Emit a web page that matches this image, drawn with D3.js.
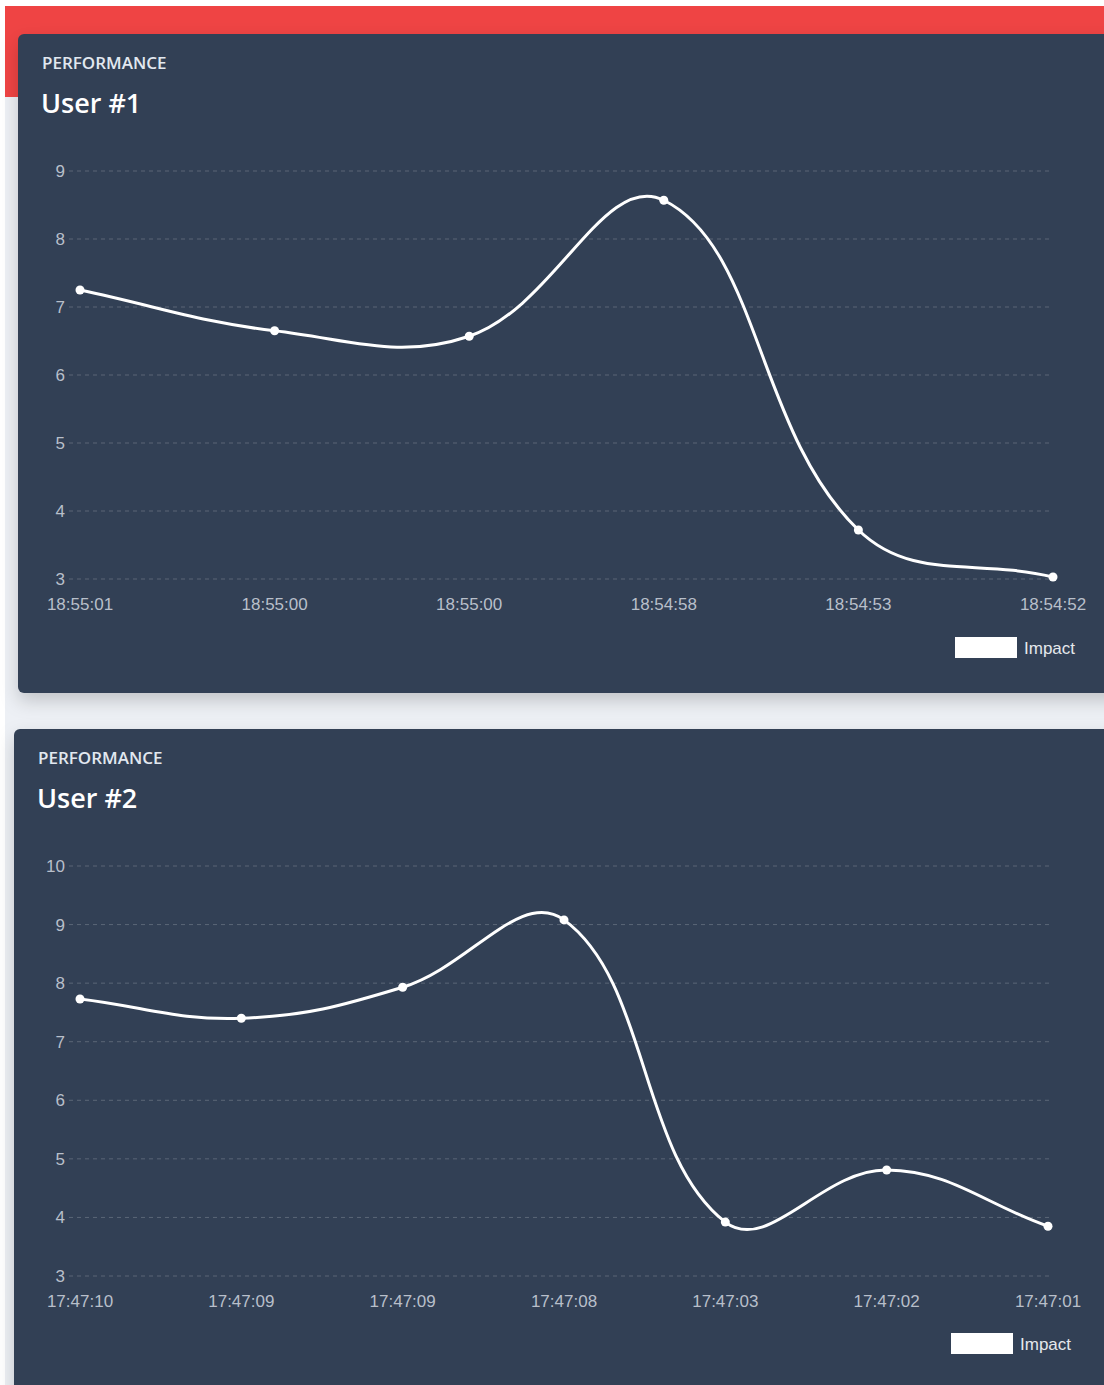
<!DOCTYPE html>
<html>
<head>
<meta charset="utf-8">
<script src="https://cdn.jsdelivr.net/npm/d3@7"></script>
<style>
  html, body { margin: 0; padding: 0; background: #ffffff; }
  svg { display: block; }
</style>
</head>
<body>
<svg id="page" width="1104" height="1385"></svg>
<script>
// ===============================
// DATA
// ===============================
const user1Labels = ["18:55:01", "18:55:00", "18:55:00", "18:54:58", "18:54:53", "18:54:52"];
const user1Impact = [7.25, 6.65, 6.57, 8.57, 3.72, 3.03];
const user1Ticks = [3, 4, 5, 6, 7, 8, 9];

const user2Labels = ["17:47:10", "17:47:09", "17:47:09", "17:47:08", "17:47:03", "17:47:02", "17:47:01"];
const user2Impact = [7.73, 7.40, 7.93, 9.08, 3.92, 4.81, 3.85];
const user2Ticks = [3, 4, 5, 6, 7, 8, 9, 10];

const svg = d3.select("#page");

// page background
svg.append("rect").attr("x", 5).attr("y", 6).attr("width", 1099).attr("height", 1379).attr("fill", "#edf0f5");
svg.append("rect").attr("x", 5).attr("y", 6).attr("width", 1099).attr("height", 91).attr("fill", "#ef4444");

const defs = svg.append("defs");
defs.append("filter").attr("id", "shadow")
    .attr("x", "-5%").attr("y", "-5%").attr("width", "110%").attr("height", "115%")
    .append("feDropShadow")
    .attr("dx", 0).attr("dy", 8).attr("stdDeviation", 9)
    .attr("flood-color", "#000").attr("flood-opacity", 0.18);

// spline like chart.js (tension 0.4, distance weighted)
function splinePath(pts, t) {
    const p = d3.path();
    const ctrl = pts.map((cur, i) => {
        const prev = pts[i - 1] || cur;
        const next = pts[i + 1] || cur;
        const d01 = Math.hypot(cur[0] - prev[0], cur[1] - prev[1]);
        const d12 = Math.hypot(next[0] - cur[0], next[1] - cur[1]);
        let s01 = d01 / (d01 + d12);
        let s12 = d12 / (d01 + d12);
        if (isNaN(s01)) s01 = 0;
        if (isNaN(s12)) s12 = 0;
        const fa = t * s01, fb = t * s12;
        return {
            before: [cur[0] - fa * (next[0] - prev[0]), cur[1] - fa * (next[1] - prev[1])],
            after: [cur[0] + fb * (next[0] - prev[0]), cur[1] + fb * (next[1] - prev[1])]
        };
    });
    p.moveTo(pts[0][0], pts[0][1]);
    for (let i = 1; i < pts.length; i++) {
        const a = ctrl[i - 1].after, b = ctrl[i].before;
        p.bezierCurveTo(a[0], a[1], b[0], b[1], pts[i][0], pts[i][1]);
    }
    return p.toString();
}

function drawCard(opt) {
    const g = svg.append("g");

    g.append("rect")
        .attr("x", opt.left).attr("y", opt.top)
        .attr("width", 1200).attr("height", opt.height)
        .attr("rx", 6)
        .attr("fill", "#334155")
        .attr("filter", "url(#shadow)");

    g.append("text")
        .attr("x", opt.left + 24).attr("y", opt.top + 35)
        .attr("fill", "#e2e8f0")
        .style("font-family", "'Open Sans', sans-serif")
        .style("font-weight", 600)
        .style("font-size", "17px")
        .text("PERFORMANCE");

    g.append("text")
        .attr("x", opt.left + 23).attr("y", opt.top + 79)
        .attr("fill", "#ffffff")
        .style("font-family", "'Open Sans', sans-serif")
        .style("font-weight", 600)
        .style("font-size", "27px")
        .text(opt.title);

    const x = d3.scalePoint()
        .domain(d3.range(opt.labels.length))
        .range([80, opt.xEnd]);

    const y = d3.scaleLinear()
        .domain([3, opt.ticks[opt.ticks.length - 1]])
        .range([opt.yBottom, opt.yTop]);

    // grid
    g.selectAll(".grid")
        .data(opt.ticks)
        .enter()
        .append("line")
        .attr("x1", 69).attr("x2", opt.gridEnd)
        .attr("y1", d => y(d)).attr("y2", d => y(d))
        .attr("stroke", "rgba(255,255,255,0.2)")
        .attr("stroke-dasharray", "4,4");

    // y labels
    g.selectAll(".ylab")
        .data(opt.ticks)
        .enter()
        .append("text")
        .attr("x", 65).attr("y", d => y(d))
        .attr("text-anchor", "end")
        .attr("dy", "0.35em")
        .attr("fill", "#b8bfca")
        .style("font-family", "'Liberation Sans', Arial, sans-serif")
        .style("font-size", "17px")
        .text(d => d);

    // x labels
    g.selectAll(".xlab")
        .data(opt.labels)
        .enter()
        .append("text")
        .attr("x", (d, i) => x(i)).attr("y", opt.yBottom + 25)
        .attr("dy", "0.35em")
        .attr("text-anchor", "middle")
        .attr("fill", "#b8bfca")
        .style("font-family", "'Liberation Sans', Arial, sans-serif")
        .style("font-size", "17px")
        .text(d => d);

    const pts = opt.values.map((v, i) => [x(i), y(v)]);

    g.append("path")
        .attr("d", splinePath(pts, 0.4))
        .attr("fill", "none")
        .attr("stroke", "#ffffff")
        .attr("stroke-width", 3);

    g.selectAll(".pt")
        .data(opt.values)
        .enter()
        .append("circle")
        .attr("cx", (d, i) => x(i))
        .attr("cy", d => y(d))
        .attr("r", 4.5)
        .attr("fill", "#ffffff");

    // legend
    g.append("rect")
        .attr("x", opt.legendX).attr("y", opt.legendY)
        .attr("width", 62).attr("height", 21)
        .attr("fill", "#ffffff");

    g.append("text")
        .attr("x", opt.legendX + 69).attr("y", opt.legendY + 11)
        .attr("dy", "0.35em")
        .attr("fill", "#e5e8ec")
        .style("font-family", "'Liberation Sans', Arial, sans-serif")
        .style("font-size", "17px")
        .text("Impact");
}

drawCard({
    left: 18, top: 34, height: 659, title: "User #1",
    labels: user1Labels, values: user1Impact, ticks: user1Ticks,
    xEnd: 1053, gridEnd: 1051, yTop: 171, yBottom: 579,
    legendX: 955, legendY: 637
});

drawCard({
    left: 14, top: 729, height: 700, title: "User #2",
    labels: user2Labels, values: user2Impact, ticks: user2Ticks,
    xEnd: 1048, gridEnd: 1049, yTop: 866, yBottom: 1276,
    legendX: 951, legendY: 1333
});
</script>
</body>
</html>
